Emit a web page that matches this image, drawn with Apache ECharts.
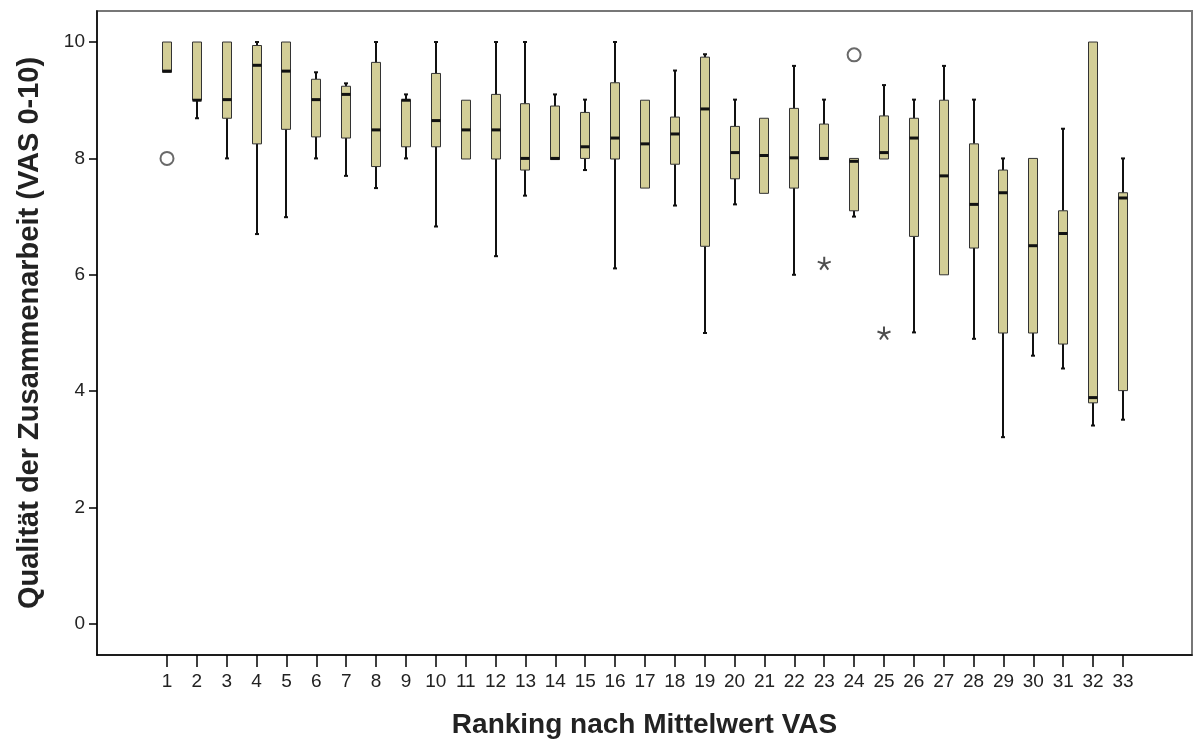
<!DOCTYPE html>
<html>
<head>
<meta charset="utf-8">
<title>Qualität der Zusammenarbeit</title>
<script src="https://cdn.jsdelivr.net/npm/echarts@6/dist/echarts.min.js"></script>
<style>
  html, body { margin: 0; padding: 0; background: #fff; }
  #chart { width: 1194px; height: 745px; }
</style>
</head>
<body>
<div id="chart"></div>
<script>
// Ranking 1..33, box plot values
const categories = [1, 2, 3, 4, 5, 6, 7, 8, 9, 10, 11, 12, 13, 14, 15, 16, 17,
  18, 19, 20, 21, 22, 23, 24, 25, 26, 27, 28, 29, 30, 31, 32, 33];
const whiskerLow = [9.48, 8.69, 8.0, 6.70, 6.99, 8.0, 7.70, 7.49, 8.0, 6.83, 7.99,
  6.32, 7.36, 7.98, 7.8, 6.11, 7.49, 7.19, 5.0, 7.21, 7.4, 6.0, 7.98, 7.0, 7.99,
  5.01, 6.0, 4.9, 3.21, 4.61, 4.39, 3.41, 3.51];
const q1 = [9.48, 9.0, 8.69, 8.25, 8.5, 8.37, 8.35, 7.86, 8.2, 8.2, 7.99,
  7.99, 7.8, 7.98, 8.0, 7.99, 7.49, 7.9, 6.49, 7.65, 7.4, 7.49, 7.98, 7.1, 7.99,
  6.66, 6.0, 6.46, 5.0, 5.0, 4.81, 3.8, 4.01];
const median = [9.5, 9.0, 9.01, 9.6, 9.5, 9.01, 9.1, 8.49, 9.0, 8.65, 8.49,
  8.49, 8.0, 8.0, 8.2, 8.35, 8.25, 8.42, 8.85, 8.1, 8.05, 8.01, 8.0, 7.95, 8.1,
  8.35, 7.7, 7.21, 7.41, 6.5, 6.71, 3.89, 7.32];
const q3 = [10, 10, 10, 9.94, 10, 9.36, 9.24, 9.65, 9.01, 9.46, 9.0,
  9.1, 8.94, 8.9, 8.79, 9.3, 9.0, 8.71, 9.74, 8.55, 8.69, 8.86, 8.59, 8.0, 8.73,
  8.69, 9.0, 8.25, 7.8, 8.0, 7.1, 10, 7.41];
const whiskerHigh = [10, 10, 10, 10, 10, 9.48, 9.29, 10, 9.1, 10, 9.0,
  10, 10, 9.1, 9.01, 10, 9.0, 9.51, 9.79, 9.01, 8.69, 9.59, 9.01, 8.0, 9.26,
  9.01, 9.59, 9.01, 8.0, 8.0, 8.51, 10, 8.0];

// outliers (circle) and extreme values (star)
const outlierX = [1, 24];
const outlierY = [8.0, 9.78];
const extremeX = [23, 25];
const extremeY = [6.2, 5.0];

const yTicks = [0, 2, 4, 6, 8, 10];

const boxData = categories.map((c, i) =>
  [c, whiskerLow[i], q1[i], median[i], q3[i], whiskerHigh[i]]);

const chart = echarts.init(document.getElementById('chart'));

function renderBox(params, api) {
  const x = api.value(0);
  const lo = api.coord([x, api.value(1)]);
  const b1 = api.coord([x, api.value(2)]);
  const md = api.coord([x, api.value(3)]);
  const b3 = api.coord([x, api.value(4)]);
  const hi = api.coord([x, api.value(5)]);
  const cx = Math.round(lo[0]);
  const w = 9;
  const line = (x1, y1, x2, y2, lw) => ({
    type: 'line',
    shape: { x1: x1, y1: y1, x2: x2, y2: y2 },
    style: { stroke: '#111', lineWidth: lw }
  });
  const kids = [];
  if (hi[1] < b3[1] - 0.5) {
    kids.push(line(cx, hi[1], cx, b3[1], 2));
    kids.push(line(cx - 2, hi[1], cx + 2, hi[1], 2));
  }
  if (lo[1] > b1[1] + 0.5) {
    kids.push(line(cx, b1[1], cx, lo[1], 2));
    kids.push(line(cx - 2, lo[1], cx + 2, lo[1], 2));
  }
  kids.push({
    type: 'rect',
    shape: { x: cx - w / 2, y: b3[1], width: w, height: Math.max(b1[1] - b3[1], 1) },
    style: { fill: '#d3ce97', stroke: '#333', lineWidth: 1 }
  });
  kids.push(line(cx - w / 2, md[1], cx + w / 2, md[1], 3));
  return { type: 'group', children: kids };
}

const starPath = 'path://M10,10L10,0M10,10L19.51,6.91M10,10L15.88,18.09M10,10L4.12,18.09M10,10L0.49,6.91';
const font = 'Liberation Sans';

chart.setOption({
  animation: false,
  textStyle: { fontFamily: font },
  grid: {
    left: 97, right: 2, top: 11, bottom: 90,
    show: true, borderColor: '#777', borderWidth: 2
  },
  xAxis: {
    type: 'value',
    min: -1.343,
    max: 35.31,
    name: 'Ranking nach Mittelwert VAS',
    nameLocation: 'middle',
    nameGap: 56,
    nameTextStyle: { fontSize: 28, fontWeight: 'bold', color: '#222', fontFamily: font },
    axisLine: { show: true, onZero: false, lineStyle: { color: '#000', width: 1.5 } },
    axisTick: { show: true, customValues: categories, length: 12, lineStyle: { color: '#000', width: 1.5 } },
    axisLabel: { customValues: categories, fontSize: 19, color: '#222', margin: 17, fontFamily: font },
    splitLine: { show: false }
  },
  yAxis: {
    type: 'value',
    min: -0.533,
    max: 10.533,
    name: 'Qualität der Zusammenarbeit (VAS 0-10)',
    nameLocation: 'middle',
    nameGap: 53,
    nameTextStyle: { fontSize: 29, fontWeight: 'bold', color: '#222', fontFamily: font },
    axisLine: { show: true, onZero: false, lineStyle: { color: '#000', width: 1.5 } },
    axisTick: { show: true, customValues: yTicks, length: 8, lineStyle: { color: '#000', width: 1.5 } },
    axisLabel: { customValues: yTicks, fontSize: 19, color: '#222', margin: 12, fontFamily: font },
    splitLine: { show: false }
  },
  series: [
    {
      type: 'custom',
      renderItem: renderBox,
      encode: { x: 0, y: [1, 2, 3, 4, 5] },
      data: boxData,
      z: 2
    },
    {
      type: 'scatter',
      symbol: 'circle',
      symbolSize: 13,
      itemStyle: { color: '#fff', borderColor: '#444', borderWidth: 2 },
      data: outlierX.map((x, i) => [x, outlierY[i]]),
      z: 3
    },
    {
      type: 'scatter',
      symbol: starPath,
      symbolSize: 13,
      itemStyle: { color: 'none', borderColor: '#222', borderWidth: 2 },
      data: extremeX.map((x, i) => [x, extremeY[i]]),
      z: 3
    }
  ]
});
</script>
</body>
</html>
